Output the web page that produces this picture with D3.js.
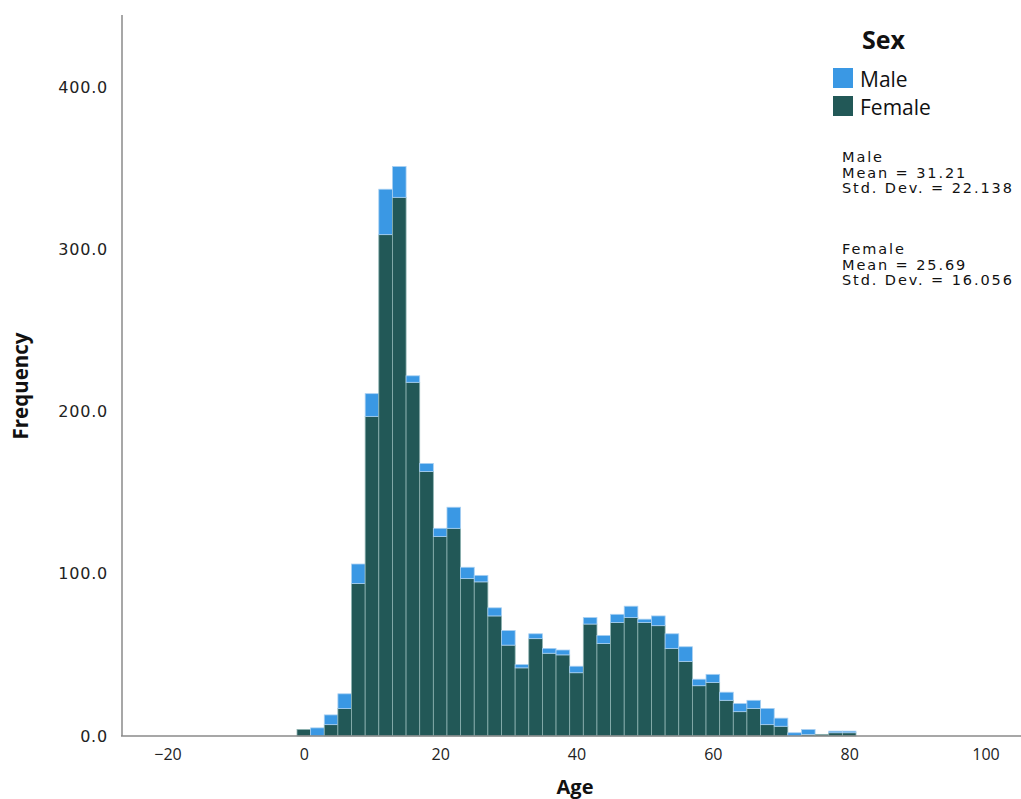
<!DOCTYPE html>
<html>
<head>
<meta charset="utf-8">
<script src="https://cdn.jsdelivr.net/npm/d3@7"></script>
<style>
  body { margin: 0; background: #fff; }
  svg { display: block; }
</style>
</head>
<body>
<svg id="chart" width="1021" height="799"></svg>
<script>
// bin centres (age), bin width 2
const binCenters = [0, 2, 4, 6, 8, 10, 12, 14, 16, 18, 20, 22, 24, 26, 28, 30, 32, 34, 36, 38,
                    40, 42, 44, 46, 48, 50, 52, 54, 56, 58, 60, 62, 64, 66, 68, 70, 72, 74, 76, 78, 80];
const female = [4, 0, 7, 17, 94, 197, 309, 332, 218, 163, 123, 128, 97, 95, 74, 56, 42, 60, 51, 50,
                39, 69, 57, 70, 73, 70, 68, 54, 46, 31, 33, 22, 15, 17, 7, 6, 0, 1, 1, 2, 2];
const male = [0, 5, 6, 9, 12, 14, 28, 19, 4, 5, 5, 13, 7, 4, 5, 9, 2, 3, 3, 3,
              4, 4, 5, 5, 7, 2, 6, 9, 9, 4, 5, 5, 5, 5, 10, 5, 2, 3, 0, 1, 1];
const xTicks = [-20, 0, 20, 40, 60, 80, 100];
const yTicks = [0, 100, 200, 300, 400];
const seriesNames = ["Male", "Female"];
const stats = [
  { name: "Male", mean: "31.21", sd: "22.138" },
  { name: "Female", mean: "25.69", sd: "16.056" }
];

const maleColor = "#3a98e4";
const femaleColor = "#225857";

const svg = d3.select("#chart");
const plot = { left: 122, right: 1021, top: 15, bottom: 736 };

const x = d3.scaleLinear().domain([-1, 81]).range([297, 856]);
const y = d3.scaleLinear().domain([0, 400]).range([plot.bottom, 87]);

// bars: female at the bottom, male stacked on top
const bars = svg.append("g");
binCenters.forEach((c, i) => {
    const x0 = x(c - 1), x1 = x(c + 1);
    if (female[i] > 0) {
        bars.append("rect")
            .attr("x", x0).attr("width", x1 - x0)
            .attr("y", y(female[i])).attr("height", y(0) - y(female[i]))
            .attr("fill", femaleColor)
            .attr("stroke", "#8db2b1").attr("stroke-width", 0.8);
    }
    if (male[i] > 0) {
        bars.append("rect")
            .attr("x", x0).attr("width", x1 - x0)
            .attr("y", y(female[i] + male[i])).attr("height", y(female[i]) - y(female[i] + male[i]))
            .attr("fill", maleColor)
            .attr("stroke", "#a9d0f2").attr("stroke-width", 0.8);
    }
});

// axis lines
svg.append("line")
    .attr("x1", plot.left).attr("x2", plot.left)
    .attr("y1", plot.top).attr("y2", plot.bottom)
    .attr("stroke", "#8a8a8a").attr("stroke-width", 1.5);
svg.append("line")
    .attr("x1", plot.left - 1).attr("x2", plot.right)
    .attr("y1", plot.bottom).attr("y2", plot.bottom)
    .attr("stroke", "#8a8a8a").attr("stroke-width", 1.5);

// x tick labels
const xAxis = svg.append("g")
    .attr("transform", `translate(0,${plot.bottom})`)
    .call(d3.axisBottom(x).tickValues(xTicks).tickSize(0).tickPadding(13).tickFormat(d3.format("d")));
xAxis.select(".domain").remove();
xAxis.selectAll("text")
    .style("font-family", "'Open Sans', sans-serif")
    .style("font-size", "16px")
    .attr("fill", "#222");

// y tick labels
const yAxis = svg.append("g")
    .attr("transform", `translate(${plot.left},0)`)
    .call(d3.axisLeft(y).tickValues(yTicks).tickSize(0).tickPadding(14).tickFormat(d3.format(".1f")));
yAxis.select(".domain").remove();
yAxis.selectAll("text")
    .style("font-family", "'DejaVu Sans', sans-serif")
    .style("font-size", "16px")
    .style("letter-spacing", "0.8px")
    .attr("fill", "#222");

// axis titles
svg.append("text")
    .attr("x", 575).attr("y", 794)
    .attr("text-anchor", "middle")
    .style("font-family", "'Open Sans', sans-serif")
    .style("font-weight", "bold").style("font-size", "20px")
    .attr("fill", "#111")
    .text("Age");

svg.append("text")
    .attr("transform", "translate(28,386) rotate(-90)")
    .attr("text-anchor", "middle")
    .style("font-family", "'Open Sans', sans-serif")
    .style("font-weight", "bold").style("font-size", "20.5px")
    .attr("fill", "#111")
    .text("Frequency");

// legend
const legend = svg.append("g");
legend.append("text")
    .attr("x", 862).attr("y", 49)
    .style("font-family", "'Open Sans', sans-serif")
    .style("font-weight", "bold").style("font-size", "25px")
    .attr("fill", "#111")
    .text("Sex");

seriesNames.forEach((name, i) => {
    legend.append("rect")
        .attr("x", 833).attr("y", 68 + i * 28)
        .attr("width", 20).attr("height", 20)
        .attr("fill", name === "Male" ? maleColor : femaleColor);
    legend.append("text")
        .attr("x", 860).attr("y", 87 + i * 28)
        .style("font-family", "'Open Sans', sans-serif")
        .style("font-size", "21px")
        .attr("fill", "#111")
        .text(name);
});

// descriptive statistics
stats.forEach((s, i) => {
    const t = svg.append("text")
        .attr("x", 842).attr("y", 162 + i * 92)
        .style("font-family", "'DejaVu Sans', sans-serif")
        .style("font-size", "14.5px")
        .style("letter-spacing", "1.9px")
        .attr("fill", "#111");
    [s.name, "Mean = " + s.mean, "Std. Dev. = " + s.sd].forEach((line, j) => {
        t.append("tspan").attr("x", 842).attr("dy", j === 0 ? 0 : 15.5).text(line);
    });
});
</script>
</body>
</html>
